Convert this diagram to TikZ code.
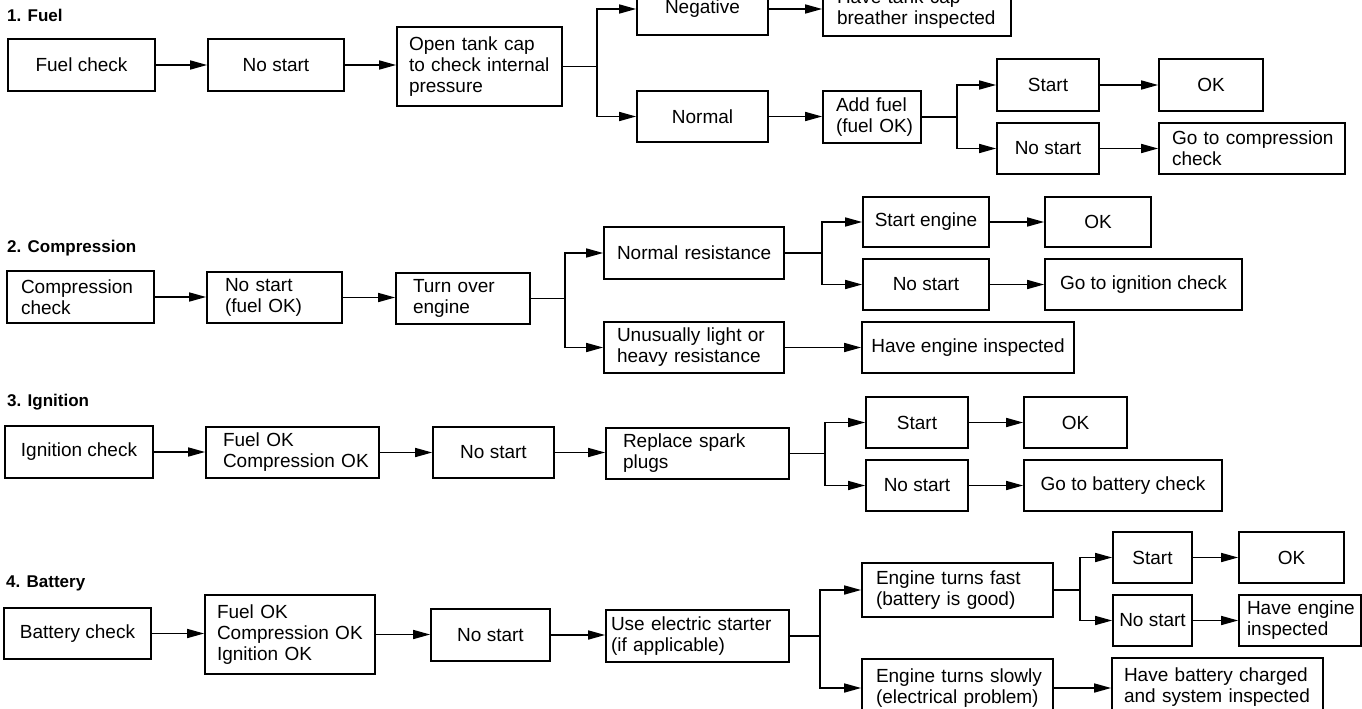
\documentclass[tikz,border=0pt]{standalone}
\usepackage{fontspec}
\setmainfont{Liberation Sans}
\usetikzlibrary{arrows.meta}
\tikzset{
  box/.style={draw, line width=1.7pt, inner ysep=0pt,
    font=\fontsize{19}{21}\selectfont,
    execute at begin node={\hyphenpenalty=10000\exhyphenpenalty=10000\hbadness=10000\hfuzz=30pt\relax}},
  arr/.style={line width=1.6pt, -{Triangle[length=17pt,width=9pt]}},
  wire/.style={line width=1.6pt},
  ttl/.style={font=\bfseries\fontsize{17}{20}\selectfont, anchor=west, inner sep=0pt}
}
% centered box: name, x1, y1, x2, y2, text
\newcommand\boxC[6]{%
  \node[box, minimum width=#4-#2, minimum height=#5-#3, align=center]
    (#1) at ({(#2+#4)/2},{(#3+#5)/2}) {#6};}
% left-aligned box: name, x1, y1, x2, y2, pad, text
\newcommand\boxL[7]{%
  \pgfmathsetmacro\tw{#4-#2-2*#6}%
  \node[box, minimum width=#4-#2, minimum height=#5-#3, inner xsep=#6,
        text width=\tw pt, align=left]
    (#1) at ({(#2+#4)/2},{(#3+#5)/2}) {#7};}
\begin{document}
\begin{tikzpicture}[x=1pt, y=-1pt]
\useasboundingbox (0,0) rectangle (1362,709);
\fill[white] (0,0) rectangle (1362,709);
\clip (0,0) rectangle (1362,709);

% titles
\node[ttl] (t1) at (7,15) {1. Fuel};
\node[ttl] (t2) at (7,248) {2. Compression};
\node[ttl] (t3) at (7,402) {3. Ignition};
\node[ttl] (t4) at (6,583) {4. Battery};

% ---- row 1
\boxC{fc}{8}{39}{155}{91}{Fuel check}
\boxC{nsa}{208}{39}{344}{91}{No start}
\boxL{otc}{397}{27}{562}{106}{12}{Open~tank~cap\\to~check~internal\\pressure}
\boxC{neg}{637}{-17}{768}{35}{Negative}
\boxL{htc}{823}{-17}{1011}{36}{14}{Have~tank~cap\\breather~inspected}
\boxC{nrm}{637}{91}{768}{142}{Normal}
\boxL{add}{823}{91}{921}{143}{13}{Add~fuel\\(fuel~OK)}
\boxC{sta}{997}{59}{1099}{111}{Start}
\boxC{oka}{1159}{59}{1263}{111}{OK}
\boxC{nsb}{997}{123}{1099}{174}{No start}
\boxL{gtc}{1159}{123}{1345}{174}{13}{Go~to~compression\\check}

% ---- row 2
\boxL{cc}{7}{271}{154}{323}{14}{Compression\\check}
\boxL{nsc}{207}{272}{342}{323}{18}{No~start\\(fuel~OK)}
\boxL{tov}{396}{273}{530}{324}{17}{Turn~over\\engine}
\boxL{nr}{604}{227}{784}{279}{13}{Normal~resistance}
\boxL{un}{604}{322}{784}{373}{13}{Unusually~light~or\\heavy~resistance}
\boxC{se}{863}{197}{989}{247}{Start engine}
\boxC{okb}{1045}{197}{1151}{247}{OK}
\boxC{nsd}{863}{259}{989}{310}{No start}
\boxC{gti}{1045}{259}{1242}{310}{Go to ignition check}
\boxC{hei}{862}{322}{1074}{373}{Have engine inspected}

% ---- row 3
\boxC{ic}{5}{426}{153}{478}{Ignition check}
\boxL{foc}{206}{427}{379}{478}{17}{Fuel~OK\\Compression~OK}
\boxC{nse}{433}{427}{554}{478}{No start}
\boxL{rsp}{606}{428}{789}{479}{17}{Replace~spark\\plugs}
\boxC{stc}{866}{397}{968}{448}{Start}
\boxC{okc}{1024}{397}{1127}{448}{OK}
\boxC{nsf}{866}{460}{968}{511}{No start}
\boxC{gtb}{1024}{460}{1222}{511}{Go to battery check}

% ---- row 4
\boxC{bc}{4}{608}{151}{659}{Battery check}
\boxL{fod}{205}{595}{375}{674}{12}{Fuel~OK\\Compression~OK\\Ignition~OK}
\boxC{nsg}{431}{609}{550}{661}{No start}
\boxL{ues}{606}{610}{789}{662}{5}{Use~electric~starter\\(if~applicable)}
\boxL{etf}{862}{563}{1053}{617}{14}{Engine~turns~fast\\(battery~is~good)}
\boxL{ets}{862}{659}{1053}{717}{14}{Engine~turns~slowly\\(electrical~problem)}
\boxC{std}{1113}{532}{1192}{583}{Start}
\boxC{okd}{1239}{532}{1344}{583}{OK}
\boxC{nsh}{1113}{595}{1192}{646}{No start}
\boxL{hed}{1239}{595}{1361}{646}{8}{Have~engine\\inspected}
\boxL{hbc}{1112}{658}{1323}{717}{12}{Have~battery~charged\\and~system~inspected}

% ---- straight arrows
\foreach \a/\b in {fc/nsa, nsa/otc, neg/htc, nrm/add, sta/oka, nsb/gtc,
                   cc/nsc, nsc/tov, se/okb, nsd/gti, un/hei,
                   ic/foc, foc/nse, nse/rsp, stc/okc, nsf/gtb,
                   bc/fod, fod/nsg, nsg/ues, std/okd, nsh/hed, ets/hbc}
  \draw[arr] (\a.east) -- (\a.east -| \b.west);

% ---- branches
\coordinate (j1) at (597,0);
\coordinate (j2) at (957,0);
\coordinate (j3) at (565,0);
\coordinate (j4) at (822,0);
\coordinate (j5) at (825,0);
\coordinate (j6) at (820,0);
\coordinate (j7) at (1080,0);
\foreach \s/\j/\u/\d in {otc/j1/neg/nrm, add/j2/sta/nsb, tov/j3/nr/un,
                         nr/j4/se/nsd, rsp/j5/stc/nsf, ues/j6/etf/ets, etf/j7/std/nsh}{
  \draw[wire] (\s.east) -- (\s.east -| \j);
  \draw[arr] (\s.east -| \j) |- (\u.west);
  \draw[arr] (\s.east -| \j) |- (\d.west);
}
\end{tikzpicture}
\end{document}
